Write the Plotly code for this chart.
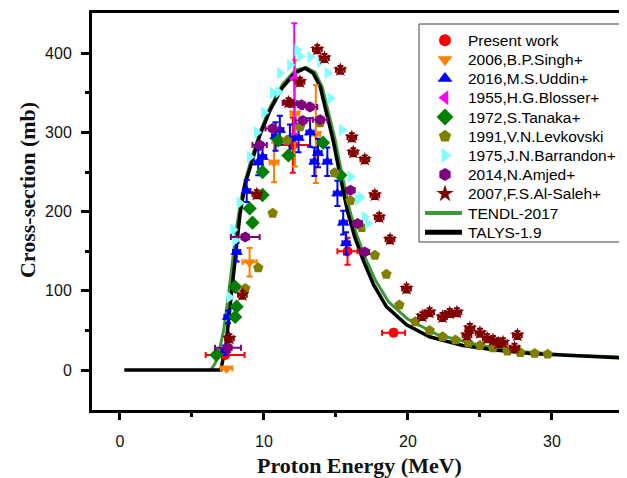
import plotly.graph_objects as go

# ---------------- data ----------------
talys_E = [0.3, 7.0, 7.36, 7.7, 8.06, 8.33, 8.68, 9.17, 9.72, 10.42, 11.25, 12.15, 12.85, 13.4, 13.9, 14.4, 14.8, 15.3, 15.8, 16.3, 16.9, 17.6, 18.5, 19.9, 21.5, 23.8, 26.2, 28.5, 31.9, 35.3]
talys_s = [0, 0, 32, 88, 145, 196, 234, 265, 297, 328, 356, 375, 381, 375, 358, 320, 290, 244, 200, 168, 138, 108, 80, 57, 42, 31, 25, 21, 18, 15]

tendl_E = [6.3, 6.6, 6.9, 7.2, 7.5, 7.8, 8.1, 8.4, 8.75, 9.2, 9.75, 10.45, 11.3, 12.2, 12.95, 13.55, 14.05, 14.55, 14.95, 15.45, 15.95, 16.45, 17.05, 17.75, 18.65, 20.0, 22.0, 25.0, 28.0, 31.0, 35.3]
tendl_s = [0, 8, 25, 50, 90, 135, 180, 215, 243, 271, 302, 333, 361, 379, 382, 376, 357, 320, 290, 244, 202, 170, 141, 113, 86, 64, 45, 31, 23, 19, 16]

present_E = [7.3, 12.0, 15.8, 19.0]
present_s = [19, 284, 150, 47]
present_xerr = [1.35, 1.2, 0.7, 0.8]
present_yerr = [4, 35, 17, 4]

singh_E = [7.4, 9.0, 10.7, 12.15, 13.6]
singh_s = [2, 136, 262, 324, 298]
singh_xerr = [0.4, 0.5, 0.3, 0.3, 0.3]
singh_yerr = [2, 18, 25, 67, 62]

uddin_E = [7.3, 7.5, 8.1, 8.8, 9.6, 9.9, 10.8, 11.1, 11.8, 12.4, 13.2, 13.5, 13.75, 14.4, 15.1, 15.5, 15.7]
uddin_s = [25, 67, 149, 226, 262, 269, 295, 303, 292, 293, 300, 263, 274, 263, 223, 186, 160]
uddin_xerr = [0.25] * 17
uddin_yerr = [6, 8, 12, 14, 16, 16, 18, 18, 18, 18, 18, 18, 18, 18, 16, 15, 14]

blosser_E = [12.1]
blosser_s = [368]
blosser_yerr = [70]

tanaka_E = [6.7, 8.0, 8.1, 8.0, 9.0, 9.2, 9.9, 9.9, 11.0, 11.7, 14.1, 15.3]
tanaka_s = [19, 67, 80, 105, 204, 186, 221, 250, 290, 271, 287, 246]

levk_E = [8.7, 9.6, 10.6, 11.6, 12.5, 13.9, 14.9, 16.0, 16.8, 17.7, 18.5, 19.4, 20.5, 21.5, 22.4, 23.3, 24.2, 25.0, 25.9, 26.9, 27.8, 28.8, 29.7]
levk_s = [103, 129, 198, 290, 307, 312, 249, 214, 180, 145, 121, 82, 61, 50, 42, 38, 34, 31, 28, 24, 22, 21, 20]

barr_E = [7.6, 7.85, 8.0, 8.3, 9.0, 9.5, 10.0, 10.6, 11.0, 11.1, 11.8, 12.3, 12.5, 13.2, 13.9, 14.4, 14.6, 15.4, 16.0, 16.5, 16.7, 17.0, 17.2]
barr_s = [92, 177, 164, 211, 269, 300, 325, 350, 351, 375, 385, 404, 396, 395, 389, 375, 343, 303, 244, 215, 218, 193, 185]

amjed_E = [7.5, 8.7, 9.7, 10.6, 11.8, 12.6, 12.7, 13.2, 13.9, 16.0, 16.5, 17.0]
amjed_s = [28, 168, 284, 305, 337, 335, 315, 332, 316, 227, 185, 149]
amjed_xerr = [0.9, 1.0, 0.5, 0.5, 0.5, 0.5, 0.5, 0.5, 0.5, 0.3, 0.3, 0.3]

saleh_E = [7.6, 8.5, 9.5, 11.7, 12.5, 13.7, 14.2, 15.3, 16.1, 16.2, 17.0, 17.7, 18.0, 18.75, 19.9, 21.0, 21.5, 22.4, 22.9, 23.4, 24.1, 24.3, 25.0, 25.5, 25.9, 26.3, 26.6, 27.4, 27.6]
saleh_s = [40, 95, 222, 338, 364, 405, 394, 379, 294, 275, 266, 221, 193, 165, 103, 68, 73, 67, 72, 73, 44, 53, 47, 40, 38, 34, 35, 28, 44]
saleh_xerr = [0.3] * 29
saleh_yerr = [5] * 29

x_ticks = [0, 10, 20, 30]
y_ticks = [0, 100, 200, 300, 400]

series_labels = ["Present work", "2006,B.P.Singh+", "2016,M.S.Uddin+", "1955,H.G.Blosser+",
                 "1972,S.Tanaka+", "1991,V.N.Levkovski", "1975,J.N.Barrandon+",
                 "2014,N.Amjed+", "2007,F.S.Al-Saleh+", "TENDL-2017", "TALYS-1.9"]

# ---------------- styles ----------------
styles = [
    ("#ff0000", "circle", 10),
    ("#ff7f00", "triangle-down", 11),
    ("#0000ff", "triangle-up", 11),
    ("#ff00ff", "triangle-left", 11),
    ("#008000", "diamond", 11),
    ("#808000", "pentagon", 11),
    ("#80ffff", "triangle-right", 11),
    ("#800080", "hexagon", 11),
    ("#800000", "star", 11),
]
TENDL_COLOR = "#3a9a3a"

# ---------------- figure ----------------
fig = go.Figure()

fig.add_trace(go.Scatter(x=tendl_E, y=tendl_s, mode="lines", name=series_labels[9],
                         line=dict(color=TENDL_COLOR, width=3), showlegend=False))
fig.add_trace(go.Scatter(x=talys_E, y=talys_s, mode="lines", name=series_labels[10],
                         line=dict(color="black", width=3.5), showlegend=False))


def ebar(arr, color, w=3):
    if arr is None:
        return None
    return dict(type="data", array=arr, color=color, thickness=2, width=w, visible=True)


def pts(idx, E, s, xerr=None, yerr=None):
    color, symbol, size = styles[idx]
    fig.add_trace(go.Scatter(
        x=E, y=s, mode="markers", name=series_labels[idx], showlegend=False,
        marker=dict(color=color, symbol=symbol, size=size, line=dict(width=0)),
        error_x=ebar(xerr, color), error_y=ebar(yerr, color)))


pts(0, present_E, present_s, present_xerr, present_yerr)
pts(1, singh_E, singh_s, singh_xerr, singh_yerr)
pts(2, uddin_E, uddin_s, uddin_xerr, uddin_yerr)
pts(3, blosser_E, blosser_s, None, blosser_yerr)
pts(4, tanaka_E, tanaka_s)
pts(5, levk_E, levk_s)
pts(6, barr_E, barr_s)
pts(7, amjed_E, amjed_s, amjed_xerr)
pts(8, saleh_E, saleh_s, saleh_xerr, saleh_yerr)

# invisible trace for right-hand inward ticks
fig.add_trace(go.Scatter(x=[0], y=[0], yaxis="y2", mode="markers",
                         marker=dict(opacity=0), showlegend=False, hoverinfo="skip"))

# ---------------- legend (drawn on a pixel-unit overlay axis) ----------------
W, H = 619, 470
L, R, T, B = 84, 0, 5, 68
leg_x0, leg_x1, leg_y0, leg_y1 = 411, 612, 16, 234
row0, row_step = 32.2, 19.2
sym_x, text_x = 437, 458
line_x0, line_x1 = 417, 454

rows = [row0 + row_step * i for i in range(len(series_labels))]
for i, (color, symbol, size) in enumerate(styles):
    fig.add_trace(go.Scatter(x=[sym_x], y=[rows[i]], xaxis="x3", yaxis="y3", mode="markers",
                             marker=dict(color=color, symbol=symbol, size=size + 2, line=dict(width=0)),
                             showlegend=False, hoverinfo="skip"))
fig.add_trace(go.Scatter(x=[line_x0, line_x1], y=[rows[9], rows[9]], xaxis="x3", yaxis="y3",
                         mode="lines", line=dict(color=TENDL_COLOR, width=4),
                         showlegend=False, hoverinfo="skip"))
fig.add_trace(go.Scatter(x=[line_x0, line_x1], y=[rows[10], rows[10]], xaxis="x3", yaxis="y3",
                         mode="lines", line=dict(color="black", width=5),
                         showlegend=False, hoverinfo="skip"))

annotations = [
    dict(text=lab, xref="x3", yref="y3", x=text_x, y=rows[i], xanchor="left", yanchor="middle",
         showarrow=False, font=dict(family="Liberation Sans, Arial", size=15.5, color="black"))
    for i, lab in enumerate(series_labels)
]
annotations += [
    dict(text="<b>Proton Energy (MeV)</b>", xref="paper", yref="paper",
         x=0.5, y=-0.141, xanchor="center", yanchor="middle", showarrow=False,
         font=dict(family="Liberation Serif, Times New Roman", size=22, color="#111")),
    dict(text="<b>Cross-section (mb)</b>", xref="paper", yref="paper",
         x=-0.1215, y=0.554, xanchor="center", yanchor="middle", showarrow=False,
         textangle=-90,
         font=dict(family="Liberation Serif, Times New Roman", size=22, color="#111")),
]

xr = [-1.944, 35.21]
yr = [-50.5, 450.8]

fig.update_layout(
    width=W, height=H,
    margin=dict(l=L, r=R, t=T, b=B, autoexpand=False),
    paper_bgcolor="white", plot_bgcolor="white",
    showlegend=False,
    xaxis=dict(range=xr, tickvals=x_ticks, ticks="outside", ticklen=7, tickwidth=2.5,
               tickcolor="black", showline=True, linewidth=3, linecolor="black",
               mirror=True, showgrid=False, zeroline=False, automargin=False,
               minor=dict(tickvals=[5, 15, 25, 35], ticklen=4, tickwidth=2.5, tickcolor="black", ticks="outside"),
               tickfont=dict(family="Liberation Sans, Arial", size=16, color="#111"),
               ticklabelstandoff=8),
    yaxis=dict(range=yr, tickvals=y_ticks, ticks="outside", ticklen=8, tickwidth=2.5,
               tickcolor="black", showline=True, linewidth=3, linecolor="black",
               mirror=False, showgrid=False, zeroline=False, automargin=False,
               minor=dict(tickvals=[50, 150, 250, 350], ticklen=4, tickwidth=2.5, tickcolor="black", ticks="outside"),
               tickfont=dict(family="Liberation Sans, Arial", size=16, color="#111"),
               ticklabelstandoff=6),
    yaxis2=dict(range=yr, overlaying="y", side="right", tickvals=y_ticks, ticks="inside",
                ticklen=7, tickwidth=2.5, tickcolor="black", showline=False, automargin=False,
                showticklabels=False, showgrid=False, zeroline=False,
                minor=dict(tickvals=[50, 150, 250, 350], ticklen=3, tickwidth=2.5, tickcolor="black", ticks="inside")),
    xaxis3=dict(range=[L, W - R], overlaying="x", visible=False, automargin=False),
    yaxis3=dict(range=[H - B, T], overlaying="y", visible=False, automargin=False),
    shapes=[dict(type="rect", xref="x3", yref="y3", x0=leg_x0, x1=leg_x1, y0=leg_y0, y1=leg_y1,
                 line=dict(color="#404040", width=1), fillcolor="white", layer="below")],
    annotations=annotations,
)

fig.write_html("out.html")
